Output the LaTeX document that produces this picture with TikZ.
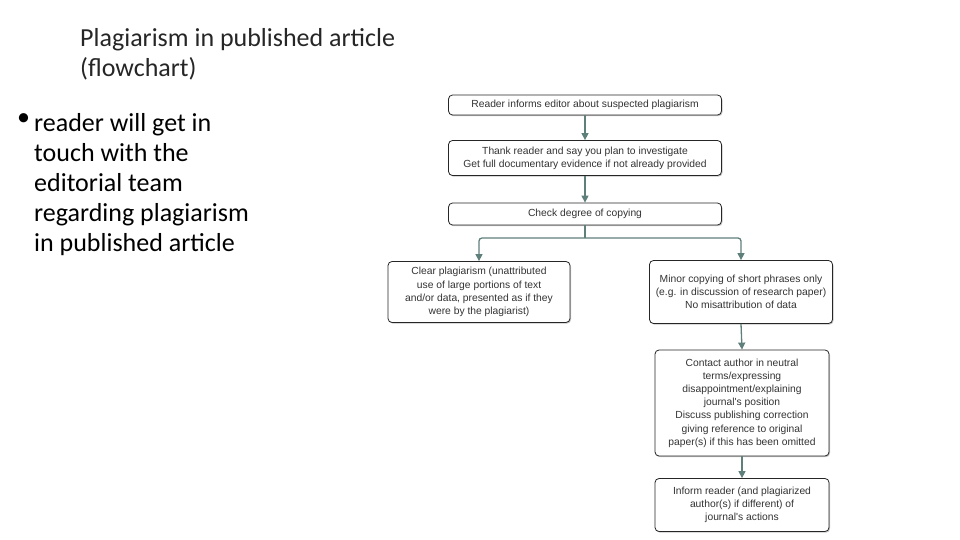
\documentclass[tikz,border=0pt]{standalone}
\usepackage{fontspec}
\setmainfont{Carlito}
\newfontfamily\boxfont{Liberation Sans}
\usetikzlibrary{arrows.meta,shadows}
\definecolor{arr}{HTML}{5F7F7A}
\tikzset{
  fbox/.style={draw=black!85,line width=0.8pt,rounded corners=4pt,fill=white,align=center,
    font=\boxfont\fontsize{10.3}{13.2}\selectfont,text=black!80,inner sep=1pt,
    drop shadow={shadow xshift=1pt,shadow yshift=-1.2pt,fill=black!45}},
  flow/.style={draw=arr,line width=1.3pt,-{Triangle[length=7pt,width=7pt]}},
  line/.style={draw=arr,line width=1.3pt,rounded corners=3pt}
}
\begin{document}
\begin{tikzpicture}[x=1pt,y=-1pt]
\useasboundingbox (0,0) rectangle (960,540);
\node[anchor=west,align=left,font=\fontsize{26}{30}\selectfont,text=black!85,inner sep=0pt] (title) at (80,54)
 {Plagiarism in published article\\(flowchart)};
\node[anchor=north west,font=\fontsize{26}{30}\selectfont,inner sep=0pt] (bul) at (17,113) {•};
\node[anchor=north west,align=left,font=\fontsize{26}{30}\selectfont,inner sep=0pt] (btxt) at (34,113)
 {reader will get in\\touch with the\\editorial team\\regarding plagiarism\\in published article};
\node[fbox,minimum width=273pt,minimum height=20pt] (b1) at (585,105) {Reader informs editor about suspected plagiarism};
\node[fbox,minimum width=273pt,minimum height=35pt] (b2) at (585,158) {Thank reader and say you plan to investigate\\Get full documentary evidence if not already provided};
\node[fbox,minimum width=273pt,minimum height=22pt] (b3) at (585,214) {Check degree of copying};
\node[fbox,minimum width=182pt,minimum height=61pt] (b4) at (479,292) {Clear plagiarism (unattributed\\use of large portions of text\\and/or data, presented as if they\\were by the plagiarist)};
\node[fbox,minimum width=183pt,minimum height=63pt] (b5) at (741,292) {Minor copying of short phrases only\\(e.g. in discussion of research paper)\\No misattribution of data};
\node[fbox,minimum width=174pt,minimum height=106pt] (b6) at (742,403) {Contact author in neutral\\terms/expressing\\disappointment/explaining\\journal's position\\Discuss publishing correction\\giving reference to original\\paper(s) if this has been omitted};
\node[fbox,minimum width=174pt,minimum height=53pt] (b7) at (742,505) {Inform reader (and plagiarized\\author(s) if different) of\\journal's actions};
\coordinate (split) at (585,238);
\draw[flow] (b1) -- (b2);
\draw[flow] (b2) -- (b3);
\draw[line] (b3) -- (split);
\draw[flow,rounded corners=3pt] (split) -| (b4.north);
\draw[flow,rounded corners=3pt] (split) -| (b5.north);
\draw[flow] (b5.south) -- (b6.north);
\draw[flow] (b6) -- (b7);
\end{tikzpicture}
\end{document}
